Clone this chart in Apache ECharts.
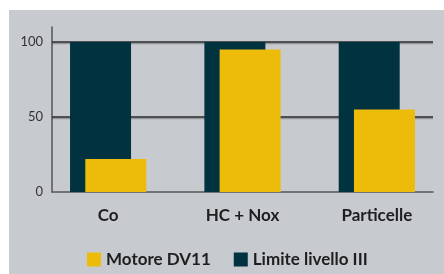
<!DOCTYPE html>
<html>
<head>
<meta charset="utf-8">
<script src="https://cdn.jsdelivr.net/npm/echarts@6/dist/echarts.min.js"></script>
<style>
  html, body { margin: 0; padding: 0; background: #fff; }
  #container { width: 444px; height: 274px; }
</style>
</head>
<body>
<div id="container"></div>
<script>
// data
var categorie = ['Co', 'HC + Nox', 'Particelle'];
var limite = [100, 100, 100];
var motore = [22, 95, 55];
var tickY = [0, 50, 100];
var gridY = [50, 100];

var dom = document.getElementById('container');
var myChart = echarts.init(dom);
var font = 'Lato, "Open Sans", sans-serif';

var option = {
    animation: false,
    graphic: [{
        type: 'rect',
        shape: { x: 9, y: 10, width: 435, height: 264 },
        style: { fill: '#c7cacf' },
        z: -10
    }],
    legend: {
        left: 82,
        top: 246,
        itemWidth: 14,
        itemHeight: 14,
        itemGap: 23,
        icon: 'rect',
        data: ['Motore DV11', 'Limite livello III'],
        textStyle: { fontFamily: font, fontWeight: 'bold', fontSize: 17, color: '#1e1e1e' }
    },
    grid: [
        // bars
        { left: 41, width: 408, top: 27, height: 165 },
        // axes
        { left: 52, right: 11, top: 27, bottom: 82 }
    ],
    xAxis: [
        {
            gridIndex: 0,
            type: 'category',
            data: categorie,
            axisLine: { show: false },
            axisTick: { show: false },
            axisLabel: { fontFamily: font, fontWeight: 'bold', fontSize: 17, color: '#1e1e1e', margin: 15 }
        },
        {
            gridIndex: 1,
            type: 'category',
            data: categorie,
            axisLine: { lineStyle: { color: '#555', width: 1.5 } },
            axisTick: { show: false },
            axisLabel: { show: false }
        }
    ],
    yAxis: [
        { gridIndex: 0, type: 'value', min: 0, max: 110, show: false },
        {
            gridIndex: 1,
            type: 'value',
            min: 0,
            max: 110,
            interval: 50,
            splitLine: { show: false },
            axisLine: { show: true, lineStyle: { color: '#555', width: 1.5 } },
            axisTick: {
                show: true,
                inside: true,
                length: 381,
                customValues: gridY,
                lineStyle: { color: '#2a2a2a', width: 1.5, shadowColor: 'rgba(0,0,0,0.25)', shadowOffsetY: 1.5 }
            },
            axisLabel: {
                customValues: tickY,
                fontFamily: font,
                fontSize: 13,
                color: '#333',
                margin: 9
            }
        }
    ],
    series: [
        {
            name: 'Limite livello III',
            type: 'bar',
            xAxisIndex: 0,
            yAxisIndex: 0,
            data: limite,
            barWidth: 61,
            barGap: '-75%',
            itemStyle: { color: '#01323f' },
            z: 5
        },
        {
            name: 'Motore DV11',
            type: 'bar',
            xAxisIndex: 0,
            yAxisIndex: 0,
            data: motore,
            barWidth: 61,
            itemStyle: { color: '#edbc0a' },
            z: 6
        }
    ]
};

if (option && typeof option === 'object') {
    myChart.setOption(option, true);
}
</script>
</body>
</html>
